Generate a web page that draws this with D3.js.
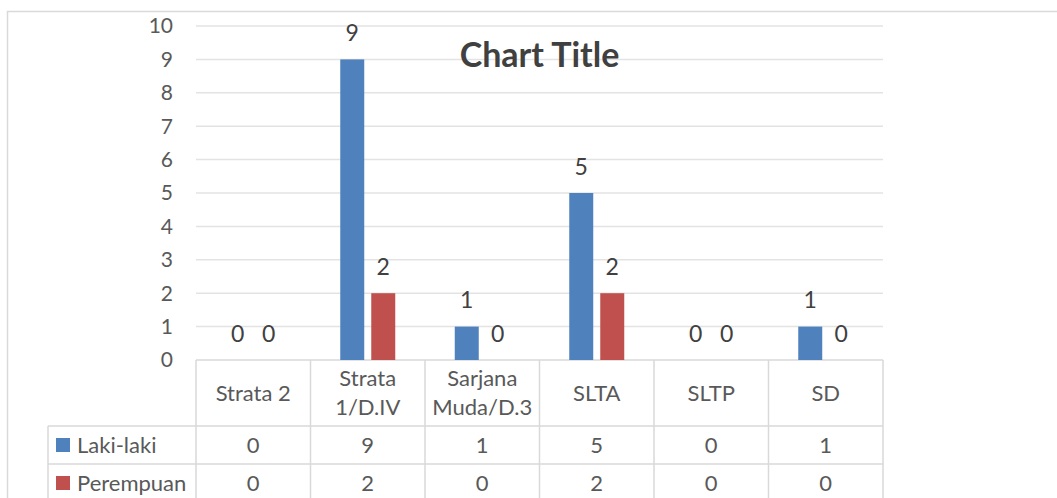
<!DOCTYPE html>
<html>
<head>
<meta charset="utf-8">
<script src="https://cdn.jsdelivr.net/npm/d3@7"></script>
<style>
  body { margin: 0; background: #fff; }
  svg { display: block; font-family: Lato, "Liberation Sans", sans-serif; }
</style>
</head>
<body>
<div id="chart"></div>
<script>
// data
const categories = ["Strata 2", "Strata 1/D.IV", "Sarjana Muda/D.3", "SLTA", "SLTP", "SD"];
const categoryLines = [["Strata 2"], ["Strata", "1/D.IV"], ["Sarjana", "Muda/D.3"], ["SLTA"], ["SLTP"], ["SD"]];
const seriesNames = ["Laki-laki", "Perempuan"];
const lakiLaki = [0, 9, 1, 5, 0, 1];
const perempuan = [0, 2, 0, 2, 0, 0];
const seriesColors = ["#4F81BD", "#C0504D"];
const yTicks = [0, 1, 2, 3, 4, 5, 6, 7, 8, 9, 10];

const seriesValues = [lakiLaki, perempuan];

const width = 1057, height = 498;
const plot = { left: 196, right: 883, top: 26, bottom: 360 };
const rowH = 38, headerH = 66;
const gridColor = "#d9d9d9";

const svg = d3.select("#chart").append("svg")
    .attr("width", width)
    .attr("height", height);

// outer chart border (runs off the picture on right and bottom)
svg.append("rect")
    .attr("x", 7.5).attr("y", 11.5)
    .attr("width", 1100).attr("height", 600)
    .attr("fill", "none")
    .attr("stroke", gridColor)
    .attr("stroke-width", 1.5);

const x0 = d3.scaleBand()
    .domain(categories)
    .range([plot.left, plot.right])
    .paddingInner(0).paddingOuter(0);

const x1 = d3.scaleBand()
    .domain(seriesNames)
    .range([-27.5, 27.5])
    .paddingInner(0.226);

const y = d3.scaleLinear()
    .domain([0, 10])
    .range([plot.bottom, plot.top]);

// gridlines
svg.append("g")
    .selectAll("line")
    .data(yTicks)
    .join("line")
    .attr("x1", plot.left).attr("x2", plot.right)
    .attr("y1", d => y(d)).attr("y2", d => y(d))
    .attr("stroke", d => d === 0 ? gridColor : "#e3e3e3")
    .attr("stroke-width", 1.5);

// y axis labels
svg.append("g")
    .selectAll("text")
    .data(yTicks)
    .join("text")
    .attr("x", 173)
    .attr("y", d => y(d))
    .attr("dy", "0.35em")
    .attr("text-anchor", "end")
    .attr("fill", "#595959")
    .style("font-size", "21px")
    .text(d => d);

// bars + data labels
const groups = svg.append("g")
    .selectAll("g")
    .data(categories)
    .join("g")
    .attr("transform", d => `translate(${x0(d) + x0.bandwidth() / 2},0)`);

const cells = groups.selectAll("g")
    .data((c, i) => seriesNames.map((s, j) => ({ s, j, v: seriesValues[j][i] })))
    .join("g");

cells.append("rect")
    .attr("x", d => x1(d.s))
    .attr("width", x1.bandwidth())
    .attr("y", d => y(d.v))
    .attr("height", d => y(0) - y(d.v))
    .attr("fill", d => seriesColors[d.j]);

cells.append("text")
    .attr("x", d => x1(d.s) + x1.bandwidth() / 2)
    .attr("y", d => y(d.v) - 18.5)
    .attr("text-anchor", "middle")
    .attr("fill", "#404040")
    .style("font-size", "23px")
    .text(d => d.v);

// title
svg.append("text")
    .attr("x", (plot.left + plot.right) / 2)
    .attr("y", 67)
    .attr("text-anchor", "middle")
    .attr("fill", "#404040")
    .style("font-size", "34px")
    .style("font-weight", "bold")
    .text("Chart Title");

// data table
const table = svg.append("g");
const legendLeft = 48;
const rowsTop = plot.bottom + headerH;

// horizontal lines
table.selectAll("line.h")
    .data([0, 1, 2, 3])
    .join("line")
    .attr("class", "h")
    .attr("x1", legendLeft).attr("x2", plot.right)
    .attr("y1", d => rowsTop + d * rowH).attr("y2", d => rowsTop + d * rowH)
    .attr("stroke", gridColor).attr("stroke-width", 1.5);

// vertical lines in category columns
table.selectAll("line.v")
    .data(d3.range(categories.length + 1))
    .join("line")
    .attr("class", "v")
    .attr("x1", i => plot.left + i * x0.step()).attr("x2", i => plot.left + i * x0.step())
    .attr("y1", plot.bottom).attr("y2", height + 10)
    .attr("stroke", gridColor).attr("stroke-width", 1.5);

table.append("line")
    .attr("x1", legendLeft).attr("x2", legendLeft)
    .attr("y1", rowsTop).attr("y2", height + 10)
    .attr("stroke", gridColor).attr("stroke-width", 1.5);

// category header labels
table.selectAll("text.cat")
    .data(categories)
    .join("text")
    .attr("class", "cat")
    .attr("x", d => x0(d) + x0.bandwidth() / 2)
    .attr("y", plot.bottom + headerH / 2)
    .attr("text-anchor", "middle")
    .attr("fill", "#595959")
    .style("font-size", "22px")
    .each(function(d, i) {
        const lines = categoryLines[i];
        d3.select(this).selectAll("tspan")
            .data(lines)
            .join("tspan")
            .attr("x", x0(d) + x0.bandwidth() / 2)
            .attr("dy", (l, k) => k === 0 ? `${0.35 - (lines.length - 1) * 0.66}em` : "1.32em")
            .text(l => l);
    });

// series rows
seriesNames.forEach((s, j) => {
    const cy = rowsTop + j * rowH + rowH / 2;
    table.append("rect")
        .attr("x", 56).attr("y", cy - 7)
        .attr("width", 14).attr("height", 14)
        .attr("fill", seriesColors[j]);
    table.append("text")
        .attr("x", 77).attr("y", cy)
        .attr("dy", "0.35em")
        .attr("fill", "#595959")
        .style("font-size", "22px")
        .text(s);
    table.append("g")
        .selectAll("text")
        .data(seriesValues[j])
        .join("text")
        .attr("x", (v, i) => x0(categories[i]) + x0.bandwidth() / 2)
        .attr("y", cy)
        .attr("dy", "0.35em")
        .attr("text-anchor", "middle")
        .attr("fill", "#595959")
        .style("font-size", "22px")
        .text(v => v);
});
</script>
</body>
</html>
